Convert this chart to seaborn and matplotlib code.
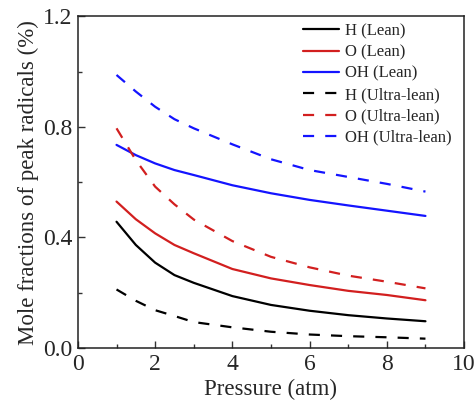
import matplotlib
matplotlib.use("Agg")
import matplotlib.pyplot as plt
import seaborn as sns
import pandas as pd
from matplotlib.ticker import MultipleLocator

pressure = [1, 1.5, 2, 2.5, 3, 4, 5, 6, 7, 8, 9]
h_lean = [0.457, 0.373, 0.309, 0.264, 0.236, 0.188, 0.156, 0.135, 0.119, 0.107, 0.097]
o_lean = [0.530, 0.466, 0.415, 0.373, 0.343, 0.286, 0.252, 0.228, 0.207, 0.192, 0.173]
oh_lean = [0.735, 0.698, 0.668, 0.644, 0.626, 0.589, 0.560, 0.536, 0.516, 0.497, 0.478]
h_ultra = [0.212, 0.171, 0.137, 0.116, 0.094, 0.075, 0.059, 0.049, 0.043, 0.039, 0.034]
o_ultra = [0.795, 0.680, 0.584, 0.520, 0.465, 0.387, 0.330, 0.292, 0.262, 0.240, 0.216]
oh_ultra = [0.988, 0.928, 0.873, 0.828, 0.795, 0.737, 0.683, 0.644, 0.619, 0.594, 0.566]

labels = ["H (Lean)", "O (Lean)", "OH (Lean)",
          "H (Ultra-lean)", "O (Ultra-lean)", "OH (Ultra-lean)"]
series = [h_lean, o_lean, oh_lean, h_ultra, o_ultra, oh_ultra]
colors = ["#000000", "#d21f1f", "#1414ff", "#000000", "#d21f1f", "#1414ff"]
dashed = [False, False, False, True, True, True]

sns.set_theme(style="ticks")
plt.rcParams["font.family"] = ["Liberation Serif", "DejaVu Serif"]
plt.rcParams["mathtext.fontset"] = "stix"

rows = []
for lab, vals in zip(labels, series):
    for p, v in zip(pressure, vals):
        rows.append({"Pressure": p, "Value": v, "Series": lab})
df = pd.DataFrame(rows)

fig = plt.figure(figsize=(4.75, 4.09), dpi=100)
ax = fig.add_axes([0.164, 0.149, 0.813, 0.811])

for lab, col, d in zip(labels, colors, dashed):
    sub = df[df["Series"] == lab]
    sns.lineplot(data=sub, x="Pressure", y="Value", ax=ax, color=col,
                 linewidth=1.6, label=lab,
                 linestyle=(0, (5, 5)) if d else "-")

ax.set_xlim(0, 10)
ax.set_ylim(0, 1.2)
ax.xaxis.set_major_locator(MultipleLocator(2))
ax.xaxis.set_minor_locator(MultipleLocator(1))
ax.yaxis.set_major_locator(MultipleLocator(0.4))
ax.yaxis.set_minor_locator(MultipleLocator(0.2))
ax.tick_params(which="both", direction="in", top=False, right=False,
               labelsize=17, color="#333333", width=1, pad=4)
ax.tick_params(which="major", length=5)
ax.tick_params(which="minor", length=3)
for s in ax.spines.values():
    s.set_linewidth(1.1)
    s.set_color("#222222")
ax.set_xlabel("Pressure (atm)", fontsize=16.5, labelpad=3)
ax.set_ylabel("Mole fractions of peak radicals (%)", fontsize=16.5, labelpad=3)

leg = ax.legend(loc="upper left", frameon=False, fontsize=12,
                handlelength=2.2, handletextpad=0.35, labelspacing=0.32,
                bbox_to_anchor=(0.565, 1.0), borderaxespad=0.0)

fig.savefig("out.png", dpi=100)
